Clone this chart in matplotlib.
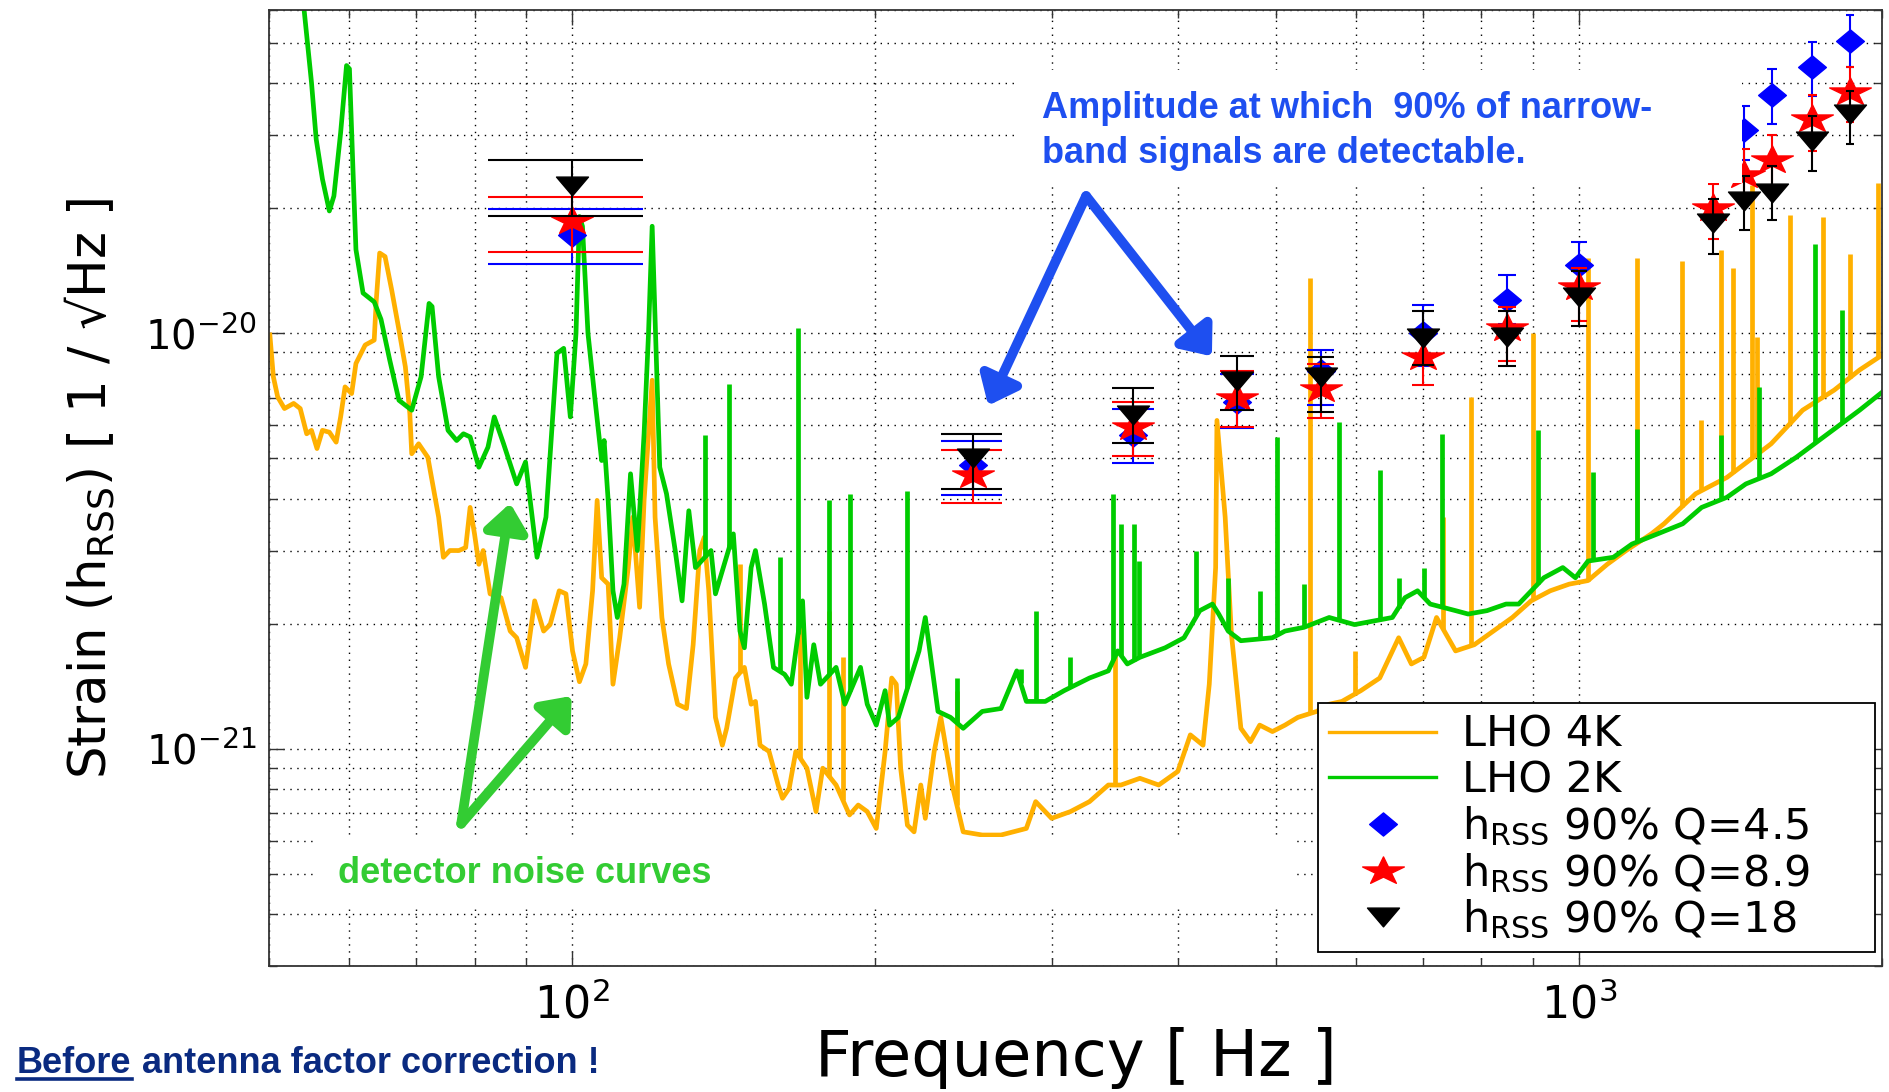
import numpy as np
import matplotlib
matplotlib.use('Agg')
import matplotlib.pyplot as plt
from matplotlib.lines import Line2D
from matplotlib.patches import Rectangle
from matplotlib.path import Path
from matplotlib.ticker import NullFormatter, LogLocator

plt.rcParams['font.family'] = ['DejaVu Sans']
plt.rcParams['mathtext.fontset'] = 'dejavusans'
plt.rcParams['mathtext.default'] = 'regular'
plt.rcParams['axes.unicode_minus'] = False

ORANGE = '#FFB000'
GREEN = '#00CC00'
NOTE_BLUE = '#1E4FF0'
NOTE_GREEN = '#33CC33'
NAVY = '#0A2A80'

# ---- LHO 4K noise floor (Hz, strain in 1e-21 / sqrt(Hz)) ----
lho4k_freq = [50.1, 50.5, 51.0, 51.8, 52.9, 53.7, 54.5, 55.1, 55.8, 56.5,
              57.4, 58.3, 58.9, 59.5, 60.4, 61.0, 62.3, 63.6, 63.9, 64.4,
              65.2, 66.2, 67.3, 68.3, 69.0, 69.3, 70.4, 71.9, 73.7, 74.5,
              75.6, 77.2, 78.4, 79.2, 80.0, 80.8, 81.6, 82.9, 85.0, 86.8,
              88.1, 89.9, 91.8, 93.7, 95.1, 97.1, 98.6, 100.1, 101.7, 103.2,
              104.8, 105.9, 107.0, 108.6, 109.8, 111.5, 113.7, 114.9, 116.7, 117.9,
              120.1, 120.9, 122.8, 124.7, 127.3, 129.9, 131.9, 133.9, 135.3, 136.7,
              138.8, 141.0, 142.4, 145.3, 148.3, 150.6, 152.1, 153.7, 156.9, 160.2,
              161.8, 164.3, 166.8, 171.1, 174.7, 177.4, 182.9, 188.6, 192.4, 196.4,
              200.5, 204.6, 207.7, 209.9, 212.0, 215.3, 218.6, 222.0, 224.3, 228.9,
              232.4, 238.5, 244.6, 255.5, 266.7, 282.6, 288.7, 299.4, 312.6, 326.5,
              340.9, 350.9, 366.4, 382.5, 399.6, 411.2, 423.3, 429.4, 435.7, 437.0,
              445.3, 451.7, 461.6, 471.8, 481.9, 496.1, 510.6, 525.8, 549.0, 564.9,
              581.6, 607.3, 634.1, 662.2, 681.7, 701.6, 722.1, 754.2, 787.2, 822.2,
              858.8, 896.5, 936.5, 977.9, 1021, 1067, 1114, 1180, 1215, 1306,
              1403, 1552, 1668, 1793, 1900, 2000]
lho4k_asd = [9.91, 7.86, 7.03, 6.59, 6.78, 6.59, 5.73, 5.84, 5.28, 5.84,
             5.78, 5.47, 6.29, 7.43, 7.16, 8.46, 9.37, 9.63, 12.0, 15.6,
             15.3, 12.7, 10.2, 8.30, 6.41, 5.13, 5.42, 5.03, 3.61, 2.89,
             3.00, 3.00, 3.05, 3.81, 3.29, 2.78, 3.00, 2.36, 2.31, 1.92,
             1.85, 1.57, 2.27, 1.92, 1.99, 2.40, 2.36, 1.72, 1.45, 1.60,
             2.40, 3.96, 2.58, 2.49, 1.43, 1.85, 2.73, 3.61, 2.19, 3.96,
             7.71, 3.61, 2.07, 1.60, 1.28, 1.25, 1.78, 3.00, 3.23, 2.40,
             1.19, 1.02, 1.12, 1.48, 1.57, 1.28, 1.30, 1.02, 0.985, 0.818,
             0.760, 0.803, 0.985, 0.898, 0.706, 0.898, 0.818, 0.693, 0.732, 0.706,
             0.643, 0.985, 1.48, 1.43, 0.898, 0.655, 0.631, 0.818, 0.680, 0.985,
             1.19, 0.818, 0.631, 0.620, 0.620, 0.643, 0.746, 0.680, 0.706, 0.746,
             0.818, 0.818, 0.849, 0.818, 0.882, 1.08, 1.02, 1.43, 2.73, 6.17,
             3.61, 1.89, 1.12, 1.04, 1.14, 1.10, 1.14, 1.19, 1.23, 1.28,
             1.30, 1.38, 1.48, 1.85, 1.60, 1.66, 2.07, 1.72, 1.78, 1.92,
             2.07, 2.27, 2.40, 2.49, 2.54, 2.78, 3.00, 3.29, 3.48, 4.11,
             4.50, 5.42, 6.53, 7.30, 8.16, 8.86]
# narrow instrumental lines on the LHO 4K floor
lho4k_line_freq = [146.8, 168.5, 180.1, 185.7, 241.1, 345.8, 541.2, 598.6, 732.8, 781.0,
                   900.5, 1021, 1143, 1265, 1321, 1383, 1423, 1486, 1504, 1621,
                   1747, 1859, 1984]
lho4k_line_peak = [2.78, 2.23, 2.15, 1.66, 1.38, 1.72, 13.6, 1.72, 3.61, 7.03,
                   10.0, 15.2, 15.2, 14.9, 6.17, 15.9, 14.4, 22.8, 9.81, 19.3,
                   19.0, 15.5, 23.0]

# ---- LHO 2K noise floor ----
lho2k_freq = [54.0, 55.1, 55.7, 56.5, 57.4, 58.0, 58.9, 59.7, 60.1, 60.6,
              61.0, 62.0, 63.6, 64.6, 65.9, 67.3, 68.3, 69.3, 70.8, 72.1,
              72.6, 73.7, 75.3, 76.8, 78.0, 79.2, 80.8, 82.5, 83.7, 85.5,
              88.1, 89.9, 92.3, 94.2, 96.6, 98.1, 99.6, 100.9, 101.7, 102.4,
              103.7, 105.4, 107.0, 107.6, 108.6, 109.8, 110.9, 112.6, 114.3, 116.1,
              117.9, 119.1, 120.1, 120.9, 122.2, 124.1, 126.6, 128.6, 130.6, 132.6,
              137.4, 138.8, 144.6, 146.8, 148.3, 150.6, 152.1, 155.3, 158.5, 162.6,
              165.1, 169.4, 171.1, 173.8, 176.5, 182.9, 186.6, 193.4, 196.4, 200.5,
              204.6, 206.7, 210.9, 221.1, 224.3, 230.9, 237.6, 244.6, 255.5, 266.7,
              276.5, 282.6, 295.1, 308.1, 326.5, 340.9, 348.3, 356.0, 366.4, 388.2,
              405.3, 420.2, 432.5, 438.8, 448.4, 461.6, 496.1, 510.6, 533.2, 564.9,
              598.6, 652.7, 671.8, 691.4, 711.7, 754.2, 776.2, 810.5, 846.5, 871.3,
              922.9, 963.8, 992.0, 1021, 1082, 1129, 1197, 1268, 1324, 1403,
              1465, 1552, 1644, 1767, 1900, 2000]
lho2k_asd = [65.0, 40.2, 29.3, 23.5, 19.7, 21.4, 30.4, 44.1, 43.3, 24.4,
             15.9, 12.5, 11.9, 10.8, 8.62, 6.90, 6.71, 6.53, 7.86, 11.8,
             11.6, 7.86, 5.84, 5.52, 5.73, 5.63, 4.76, 5.32, 6.29, 5.42,
             4.34, 4.90, 2.89, 3.61, 8.95, 9.20, 6.29, 10.0, 19.1, 18.1,
             10.0, 6.90, 4.94, 5.52, 3.96, 2.40, 2.07, 2.49, 4.59, 3.00,
             5.73, 10.0, 18.1, 10.8, 4.76, 4.11, 3.00, 2.27, 3.74, 2.73,
             3.00, 2.36, 3.29, 1.92, 1.75, 2.73, 3.00, 2.23, 1.57, 1.51,
             1.43, 2.27, 1.33, 1.78, 1.43, 1.57, 1.28, 1.57, 1.28, 1.14,
             1.38, 1.14, 1.19, 1.72, 2.07, 1.23, 1.19, 1.12, 1.23, 1.25,
             1.54, 1.30, 1.30, 1.38, 1.48, 1.54, 1.72, 1.60, 1.66, 1.75,
             1.85, 2.15, 2.23, 2.11, 1.92, 1.82, 1.85, 1.92, 1.96, 2.07,
             1.99, 2.07, 2.31, 2.40, 2.23, 2.15, 2.11, 2.15, 2.23, 2.23,
             2.58, 2.73, 2.58, 2.83, 2.89, 3.11, 3.29, 3.48, 3.81, 4.03,
             4.34, 4.59, 5.03, 5.73, 6.53, 7.21]
lho2k_line_freq = [135.6, 143.1, 161.0, 167.7, 180.1, 189.0, 215.3, 241.0, 279.0, 288.7,
                   312.0, 344.8, 350.9, 361.2, 366.0, 417.0, 448.0, 481.9, 501.9, 533.0,
                   577.4, 634.1, 662.0, 702.0, 730.6, 909.9, 1033, 1143, 1383, 1508,
                   1717, 1825]
lho2k_line_peak = [5.68, 7.57, 2.89, 10.3, 3.96, 4.10, 4.18, 1.48, 1.56, 2.15,
                   1.66, 4.11, 3.48, 3.48, 2.83, 3.00, 2.58, 2.40, 5.63, 2.49,
                   6.12, 4.68, 2.58, 2.73, 5.73, 5.84, 4.63, 5.89, 5.68, 7.43,
                   16.4, 11.4]

# ---- 90% detection amplitudes for narrow-band bursts (1e-21 / sqrt(Hz)) ----
sg_freq = [100, 250, 361, 458, 554, 700, 849, 1000, 1360, 1460, 1556, 1706, 1858]

q45_hrss = [17.2, 4.81, 5.68, 6.83, 8.11, 10.0, 12.0, 14.6, np.nan, 30.8, 37.5, 43.7, 50.5]
q45_low = [14.7, 4.07, 4.86, 5.90, 6.71, 8.34, 10.5, 12.4, np.nan, 26.1, 31.9, 37.3, 43.7]
q45_high = [19.9, 5.52, 6.56, 7.98, 9.12, 11.7, 13.8, 16.6, np.nan, 35.3, 43.3, 50.2, 58.4]

q89_hrss = [18.6, 4.57, 5.95, 6.98, 7.36, 8.77, 10.3, 12.9, 20.0, 24.1, 26.2, 32.8, 38.0]
q89_low = [15.7, 3.90, 5.07, 5.96, 6.24, 7.50, 8.57, 10.7, 16.9, 21.0, 22.1, 27.5, 32.3]
q89_high = [21.3, 5.25, 6.84, 8.11, 8.43, 10.2, 11.6, 14.4, 22.9, 27.7, 30.0, 37.4, 43.8]

q18_hrss = [22.6, 5.02, 6.35, 7.67, 7.84, 9.74, 9.77, 12.2, 18.4, 20.8, 21.8, 29.0, 33.7]
q18_low = [19.2, 4.22, 5.45, 6.53, 6.47, 8.38, 8.35, 10.4, 15.5, 17.7, 18.7, 24.6, 28.5]
q18_high = [26.1, 5.72, 7.38, 8.83, 8.78, 11.3, 11.3, 14.1, 21.0, 23.9, 25.3, 33.4, 38.3]

UNIT = 1e-21
LW_CURVE = 3.4

# wide markers, as they appear on the original slide
diamond = Path([(-0.6, 0), (0, 0.5), (0.6, 0), (0, -0.5), (-0.6, 0)], closed=True)
tri_down = Path([(-0.85, 0.5), (0.85, 0.5), (0, -0.5), (-0.85, 0.5)], closed=True)
k = np.arange(11) % 10
ang = np.pi / 2 + k * np.pi / 5
rad = np.where(k % 2 == 0, 1.0, 0.382)
star = Path(np.column_stack([1.5 * rad * np.cos(ang), rad * np.sin(ang)]), closed=True)

fig = plt.figure(figsize=(18.9, 10.92), dpi=100)
ax = fig.add_axes([269 / 1890, 126 / 1092, 1613 / 1890, 956 / 1092])
ax.set_xscale('log')
ax.set_yscale('log')


def floor_at(f, freq, asd):
    return 10 ** np.interp(np.log10(f), np.log10(freq), np.log10(asd))


for freq, asd, lf, lp, color in [
        (lho4k_freq, lho4k_asd, lho4k_line_freq, lho4k_line_peak, ORANGE),
        (lho2k_freq, lho2k_asd, lho2k_line_freq, lho2k_line_peak, GREEN)]:
    ax.plot(freq, np.array(asd) * UNIT, color=color, lw=LW_CURVE, zorder=2)
    base = floor_at(np.array(lf), freq, asd)
    ax.vlines(lf, base * UNIT, np.array(lp) * UNIT, color=color, lw=LW_CURVE, zorder=2)

f = np.array(sg_freq, dtype=float)
tee = (f.max() - f.min()) / 100
series = [(q45_hrss, q45_low, q45_high, 'blue', diamond, 20, 3.0),
          (q89_hrss, q89_low, q89_high, 'red', star, 30, 3.2),
          (q18_hrss, q18_low, q18_high, 'black', tri_down, 23, 3.4)]
for val, lo, hi, color, mk, ms, z in series:
    val, lo, hi = (np.array(a) * UNIT for a in (val, lo, hi))
    ok = ~np.isnan(val)
    ax.vlines(f[ok], lo[ok], hi[ok], color=color, lw=1.5, zorder=z)
    ax.hlines(lo[ok], f[ok] - tee, f[ok] + tee, color=color, lw=1.5, zorder=z)
    ax.hlines(hi[ok], f[ok] - tee, f[ok] + tee, color=color, lw=1.5, zorder=z)
    ax.plot(f[ok], val[ok], ls='none', marker=mk, ms=ms, mfc=color, mec=color,
            mew=1, zorder=z + 0.1)

ax.set_xlim(50, 2000)
ax.set_ylim(3e-22, 6e-20)
ax.set_xticks([100, 1000])
ax.set_yticks([1e-21, 1e-20])
ax.xaxis.set_minor_locator(LogLocator(base=10, subs=np.arange(2, 10)))
ax.yaxis.set_minor_locator(LogLocator(base=10, subs=np.arange(2, 10)))
ax.xaxis.set_minor_formatter(NullFormatter())
ax.yaxis.set_minor_formatter(NullFormatter())
ax.tick_params(which='both', direction='in', top=True, right=True, width=1.0,
               color='#333333')
ax.tick_params(which='major', length=11)
ax.tick_params(axis='x', which='major', labelsize=32, pad=12)
ax.tick_params(axis='y', which='major', labelsize=29, pad=9)
ax.tick_params(which='minor', length=6)
ax.grid(True, which='both', color='black', ls=(0, (1, 4)), lw=1.0)
ax.set_axisbelow(True)
for s in ax.spines.values():
    s.set_linewidth(1.3)
    s.set_color('#333333')
ax.set_xlabel('Frequency [ Hz ]', fontsize=46, labelpad=0)
ax.set_ylabel('Strain (h$_{RSS}$) [ 1 / √Hz ]', fontsize=37, labelpad=20)

handles = [Line2D([], [], color=ORANGE, lw=2.4),
           Line2D([], [], color=GREEN, lw=2.4),
           Line2D([], [], ls='none', marker=diamond, ms=20, color='blue'),
           Line2D([], [], ls='none', marker=star, ms=30, color='red'),
           Line2D([], [], ls='none', marker=tri_down, ms=23, color='black')]
labels = ['LHO 4K', 'LHO 2K', 'h$_{RSS}$ 90% Q=4.5', 'h$_{RSS}$ 90% Q=8.9',
          'h$_{RSS}$ 90% Q=18']
leg = ax.legend(handles, labels, loc='lower left',
                bbox_to_anchor=(0.6503, 0.0146, 0.3453, 0.26), mode='expand',
                borderaxespad=0, fontsize=31, fancybox=False, edgecolor='black',
                framealpha=1, handlelength=2.5, handletextpad=0.6,
                labelspacing=0.08, borderpad=0.25)
leg.get_frame().set_linewidth(1.3)

# arrows pointing at the detection points and at the noise curves
blue_arrow = dict(arrowstyle='-|>,head_length=16,head_width=13', mutation_scale=1,
                  lw=7, color=NOTE_BLUE, shrinkA=0, shrinkB=0)
ax.annotate('', xy=(259, 6.7e-21), xytext=(324, 2.14e-20), arrowprops=blue_arrow, zorder=6)
ax.annotate('', xy=(432, 8.8e-21), xytext=(324, 2.14e-20), arrowprops=blue_arrow, zorder=6)
green_arrow = dict(blue_arrow, color=NOTE_GREEN)
ax.annotate('', xy=(86.8, 3.9e-21), xytext=(77.6, 6.6e-22), arrowprops=green_arrow, zorder=6)
ax.annotate('', xy=(99.9, 1.34e-21), xytext=(77.6, 6.6e-22), arrowprops=green_arrow, zorder=6)

# white text boxes laid over the plot
fig.add_artist(Rectangle((1017 / 1890, 1 - 183 / 1092), 725 / 1890, 113 / 1092,
                         transform=fig.transFigure, fc='white', ec='none', zorder=3))
fig.add_artist(Rectangle((316 / 1890, 1 - 905 / 1092), 980 / 1890, 68 / 1092,
                         transform=fig.transFigure, fc='white', ec='none', zorder=3))

note = dict(family=['Liberation Sans', 'DejaVu Sans'], weight='bold', fontsize=26,
            va='baseline', ha='left', zorder=4)
fig.text(1042 / 1890, 1 - 118 / 1092, 'Amplitude at which  90% of narrow-',
         color=NOTE_BLUE, **note)
fig.text(1042 / 1890, 1 - 163 / 1092, 'band signals are detectable.',
         color=NOTE_BLUE, **note)
fig.text(338 / 1890, 1 - 883 / 1092, 'detector noise curves', color=NOTE_GREEN, **note)

foot = dict(note, fontsize=26, color=NAVY)
t_before = fig.text(17 / 1890, 1 - 1073 / 1092, 'Before', **foot)
renderer = fig.canvas.get_renderer()
bb = t_before.get_window_extent(renderer)
x_end = bb.x1 / fig.bbox.width
fig.text(x_end, 1 - 1073 / 1092, ' antenna factor correction !', **foot)
fig.add_artist(Line2D([bb.x0 / fig.bbox.width, x_end], [1 - 1079 / 1092] * 2,
                      transform=fig.transFigure, color=NAVY, lw=2.6, zorder=4))

fig.savefig('out.png', dpi=100)
